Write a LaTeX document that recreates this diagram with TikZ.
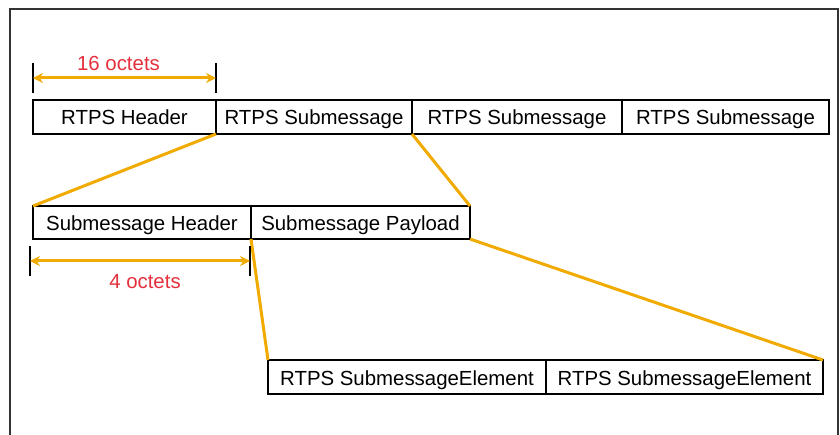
\documentclass[tikz,border=0pt]{standalone}
\usepackage{fontspec}
\setmainfont{Liberation Sans}
\usetikzlibrary{arrows.meta, positioning}
\definecolor{lineorange}{RGB}{240,170,0}
\definecolor{labelred}{RGB}{228,48,60}

\begin{document}
\begin{tikzpicture}[
    x=1pt, y=-1pt,
    field/.style={rectangle, draw=black, line width=2.5pt, minimum height=34pt, inner sep=0pt, outer sep=0pt, text height=17pt, text depth=1pt, font=\fontsize{20.4}{24}\selectfont},
    link/.style={draw=lineorange, line width=3pt},
    tick/.style={draw=black, line width=1.4pt},
    span/.style={<->, >={Stealth[length=10pt, width=10pt]}, draw=lineorange, line width=3pt},
    size/.style={text=labelred, inner sep=3pt, font=\fontsize{20.4}{24}\selectfont}
]

\useasboundingbox (0,0) rectangle (840,435);
\clip (0,0) rectangle (840,435);
\draw [line width=1.2pt, draw=black!80] (10,9) rectangle (838,460);

% message
\node (hdr) [field, minimum width=183pt, anchor=north west] at (33,100) {RTPS Header};
\node (sm1) [field, minimum width=196pt, right=0pt of hdr] {RTPS Submessage};
\node (sm2) [field, minimum width=210pt, right=0pt of sm1] {RTPS Submessage};
\node (sm3) [field, minimum width=207pt, right=0pt of sm2] {RTPS Submessage};

% submessage
\node (smh) [field, minimum width=218pt, minimum height=33pt, anchor=north west] at (33,206) {Submessage Header};
\node (pay) [field, minimum width=219pt, minimum height=33pt, right=0pt of smh] {Submessage Payload};

% elements
\node (el1) [field, minimum width=278pt, anchor=north west] at (268,360) {RTPS SubmessageElement};
\node (el2) [field, minimum width=277pt, right=0pt of el1] {RTPS SubmessageElement};

\draw [link] (hdr.south east) -- (smh.north west);
\draw [link] (sm1.south east) -- (pay.north east);
\draw [link] (smh.south east) -- (el1.north west);
\draw [link] (pay.south east) -- (el2.north east);

% sizes
\coordinate (hl) at ([yshift=22pt]hdr.north west);
\coordinate (hr) at ([yshift=22pt]hdr.north east);
\draw [tick] ([yshift=-15pt]hl) -- ([yshift=15pt]hl);
\draw [tick] ([yshift=-15pt]hr) -- ([yshift=15pt]hr);
\draw [span] (hl) -- node[above=3pt, xshift=-6pt, size] {16 octets} (hr);

\coordinate (sl) at ([xshift=-3pt, yshift=-22pt]smh.south west);
\coordinate (sr) at ([xshift=-1pt, yshift=-22pt]smh.south east);
\draw [tick] ([yshift=-15pt]sl) -- ([yshift=15pt]sl);
\draw [tick] ([yshift=-15pt]sr) -- ([yshift=15pt]sr);
\draw [span] (sl) -- node[below=9pt, xshift=5pt, size] {4 octets} (sr);

\end{tikzpicture}
\end{document}
